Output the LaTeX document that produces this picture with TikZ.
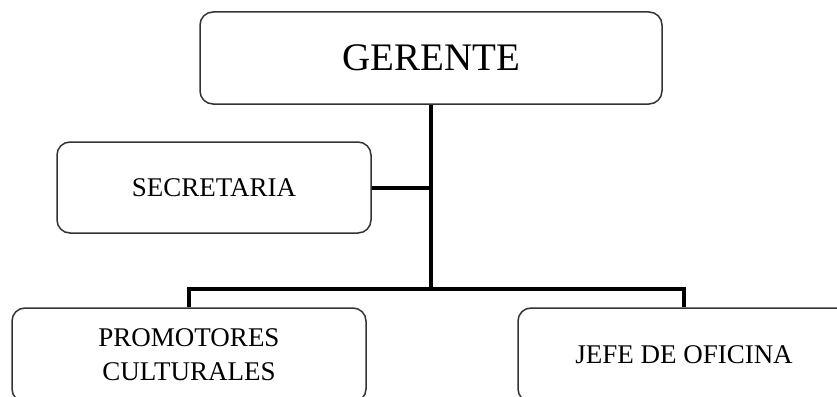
\documentclass[tikz,border=0pt]{standalone}
\usepackage{fontspec}
\setmainfont{Liberation Serif}
\begin{document}
\begin{tikzpicture}[x=1pt,y=-1pt,
  box/.style={draw=black!80, line width=1.5pt, rounded corners=13pt, fill=white, align=center, inner sep=0pt},
  lbl/.style={font=\fontsize{27}{34}\selectfont},
  link/.style={line width=4pt, black}]
\useasboundingbox (0,0) rectangle (837,396);
\node[box, minimum width=462pt, minimum height=92pt, font=\fontsize{39}{44}\selectfont] (ger) at (431,58) {GERENTE};
\node[box, lbl, minimum width=314pt, minimum height=91pt] (sec) at (214,187.5) {SECRETARIA};
\node[box, lbl, minimum width=354pt, minimum height=94pt] (pro) at (189,355) {PROMOTORES\\CULTURALES};
\node[box, lbl, minimum width=332pt, minimum height=94pt] (jef) at (684,355) {JEFE DE OFICINA};
\coordinate (bar) at (431,289);
\draw[link] (ger.south) -- (bar);
\draw[link] (sec.east) -- (ger.south |- sec.east);
\draw[link] (pro.north) |- (bar) -| (jef.north);
\end{tikzpicture}
\end{document}
